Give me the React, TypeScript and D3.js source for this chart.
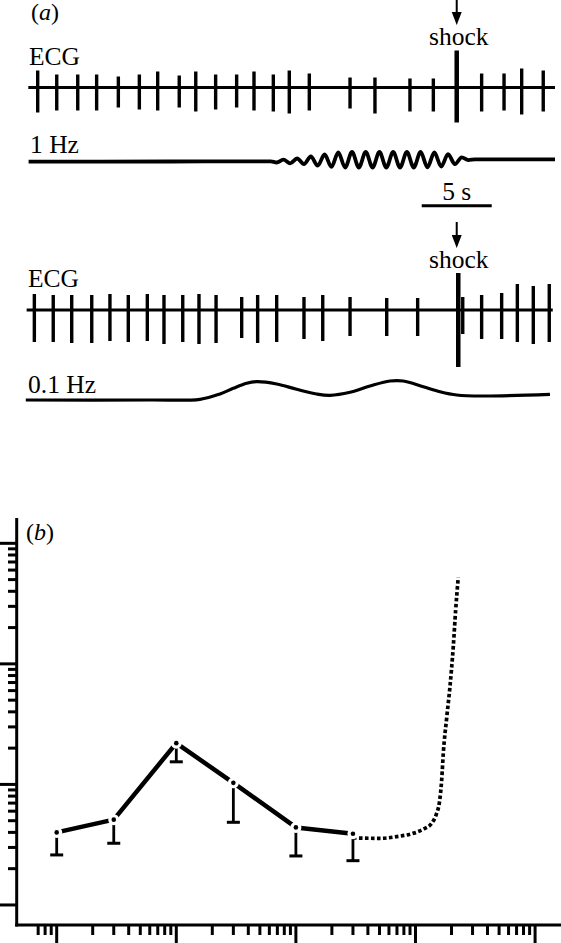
import React from 'react'
import * as d3 from 'd3'

// ---- panel (a): time in s, deflections in mV (20 px per mV) ----
// upper ECG (1 Hz stimulation)
const ecg1Times = [0.55, 1.91, 3.41, 4.76, 6.31, 7.81, 9.12, 10.66, 11.84, 13.26, 14.76, 16.0, 17.38, 18.52, 19.95, 22.86, 24.64, 27.14, 28.81, 30.48, 32.26, 33.86, 35.12, 36.66]
const ecg1Up = [0.85, 0.65, 0.65, 0.65, 0.55, 0.65, 0.8, 0.6, 0.8, 0.65, 0.65, 0.8, 0.65, 0.85, 0.7, 0.5, 0.5, 0.45, 0.45, 1.85, 0.7, 0.7, 0.95, 0.85]
const ecg1Down = [1.25, 1.15, 1.15, 1.15, 1.0, 1.1, 1.15, 1.0, 1.2, 1.1, 1.0, 1.15, 1.2, 1.3, 1.15, 1.05, 1.3, 1.2, 1.2, 1.75, 1.2, 1.15, 1.35, 1.2]
// lower ECG (0.1 Hz stimulation)
const ecg2Times = [0.31, 1.66, 2.98, 4.41, 5.71, 7.02, 8.38, 9.57, 10.91, 12.07, 13.29, 15.12, 16.26, 17.62, 19.57, 20.91, 22.86, 25.48, 27.69, 30.59, 30.91, 32.26, 33.69, 34.81, 35.95, 37.09]
const ecg2Up = [0.8, 0.75, 0.75, 0.75, 0.8, 0.75, 0.8, 0.75, 0.75, 0.8, 0.75, 0.65, 0.75, 0.75, 0.65, 0.75, 0.65, 0.6, 0.6, 1.85, 0.65, 0.75, 0.85, 1.3, 1.2, 1.3]
const ecg2Down = [1.6, 1.6, 1.65, 1.65, 1.55, 1.6, 1.55, 1.7, 1.6, 1.7, 1.65, 1.4, 1.65, 1.6, 1.45, 1.55, 1.3, 1.3, 1.3, 2.85, 1.2, 1.45, 1.45, 1.6, 1.7, 1.6]
const shockTime = 30.48

// stimulus traces: points read from the record (t, mV)
const stim1Hz: [number, number][] = [
  [-0.1, -0.06], [10, -0.05], [17.2, -0.04], [17.62, -0.1], [18.1, 0.04], [18.59, -0.14],
  [19.08, 0.1], [19.57, -0.18], [20.06, 0.2], [20.55, -0.26], [21.04, 0.3], [21.53, -0.32],
  [22.02, 0.4], [22.51, -0.35], [23.0, 0.43], [23.49, -0.35], [23.98, 0.43], [24.47, -0.35],
  [24.96, 0.43], [25.45, -0.35], [25.94, 0.43], [26.43, -0.35], [26.92, 0.43], [27.41, -0.35],
  [27.9, 0.43], [28.39, -0.34], [28.88, 0.4], [29.37, -0.3], [29.86, 0.32], [30.35, -0.18],
  [30.84, 0.16], [31.3, 0.02], [31.8, 0.06], [37.5, 0.06],
]
const stim01Hz: [number, number][] = [
  [-0.3, 0], [8.57, 0], [12.14, 0.035], [13.57, 0.3], [14.52, 0.585], [15.48, 0.835],
  [16.19, 0.915], [17.62, 0.8], [19.05, 0.535], [20.48, 0.3], [21.43, 0.235], [22.86, 0.385],
  [24.29, 0.7], [25.71, 0.95], [26.66, 0.95], [28.09, 0.665], [29.29, 0.415], [30.48, 0.25],
  [32.38, 0.2], [37.14, 0.285],
]

// ---- panel (b) ----
const freqs = [1, 3, 10, 30, 100, 300]
const meanVals = [4.0, 5.1, 22, 10.3, 4.4, 3.9]
const lowerVals = [2.6, 3.25, 15.4, 4.85, 2.55, 2.33]
const fitFreqs = [300, 505, 696, 959, 1162, 1366, 1503, 1581, 1656, 1708, 1823, 1942, 2070, 2167, 2278]
const fitVals = [3.6, 3.57, 3.69, 3.93, 4.25, 4.76, 5.76, 6.97, 10.9, 18.1, 35.6, 64.7, 139, 280, 522]

const W = 561
const H = 943
const font = '"Liberation Serif", "Times New Roman", Times, serif'
const fs = 25.5

export default function App() {
  const xT = d3.scaleLinear().domain([0, 37.5]).range([30, 555])
  const amp = d3.scaleLinear().domain([0, 1]).range([0, -20])

  const trace = (base: number, curve: d3.CurveFactory) =>
    d3.line<[number, number]>()
      .x(d => xT(d[0]))
      .y(d => base + amp(d[1]))
      .curve(curve)

  const spikes = (times: number[], up: number[], down: number[], base: number, big: number) =>
    times.map((t, i) => (
      <line key={i} x1={xT(t)} x2={xT(t)} y1={base + amp(up[i])} y2={base - amp(down[i])}
        stroke="#000" strokeWidth={i === big ? 4.5 : 3.4} />
    ))

  const arrow = (x: number, y0: number, tip: number) => (
    <g>
      <line x1={x} x2={x} y1={y0} y2={tip - 8} stroke="#000" strokeWidth={2} />
      <path d={`M${x - 5},${tip - 13}L${x + 5},${tip - 13}L${x},${tip}Z`} fill="#000" />
    </g>
  )

  // panel (b) scales
  const xF = d3.scaleLog().domain([0.463, 16470]).range([16.7, 561])
  const yV = d3.scaleLog().domain([0.682, 1622]).range([925, 518])
  const isMajor = (v: number) => Math.abs(Math.log10(v) - Math.round(Math.log10(v))) < 1e-6
  const xTicks = xF.ticks().filter(v => v >= 0.69)
  const yTicks = yV.ticks().filter(v => v >= 0.99)

  const meanLine = d3.line<number>().x((_, i) => xF(freqs[i])).y(d => yV(d))
  const fitLine = d3.line<number>().x((_, i) => xF(fitFreqs[i])).y(d => yV(d)).curve(d3.curveMonotoneX)

  return (
    <svg width={W} height={H} style={{ position: 'absolute', left: 0, top: 0, background: '#fff' }}
      fontFamily={font} fontSize={fs}>
      {/* ---------- panel (a) ---------- */}
      <text x={31} y={20} fontSize={24}>(<tspan fontStyle="italic">a</tspan>)</text>

      <text x={29} y={65}>ECG</text>
      <line x1={xT(-0.12)} x2={xT(37.5)} y1={87.5} y2={87.5} stroke="#000" strokeWidth={2.8} />
      {spikes(ecg1Times, ecg1Up, ecg1Down, 87.5, ecg1Times.indexOf(shockTime))}
      {arrow(xT(shockTime), 0, 25)}
      <text x={xT(shockTime) + 2} y={45} textAnchor="middle">shock</text>

      <text x={30} y={153}>1 Hz</text>
      <path d={trace(160.5, d3.curveMonotoneX)(stim1Hz) ?? ''} fill="none" stroke="#000" strokeWidth={3.8} />

      <line x1={xT(27.98)} x2={xT(32.98)} y1={205.7} y2={205.7} stroke="#000" strokeWidth={3} />
      <text x={xT(30.48)} y={200} textAnchor="middle">5 s</text>

      <text x={28} y={287}>ECG</text>
      <line x1={xT(-0.24)} x2={xT(37.34)} y1={310} y2={310} stroke="#000" strokeWidth={2.8} />
      {spikes(ecg2Times, ecg2Up, ecg2Down, 310, 19)}
      {arrow(xT(shockTime), 222, 248)}
      <text x={xT(shockTime) + 2} y={268} textAnchor="middle">shock</text>

      <text x={28} y={393}>0.1 Hz</text>
      <path d={trace(400, d3.curveCatmullRom.alpha(0.5))(stim01Hz) ?? ''} fill="none" stroke="#000" strokeWidth={3.2} />

      {/* ---------- panel (b) ---------- */}
      <text x={26} y={540} fontSize={24}>(<tspan fontStyle="italic">b</tspan>)</text>

      {yTicks.map(v => (
        <line key={'y' + v} x1={isMajor(v) ? -4 : 8} x2={16.7} y1={yV(v)} y2={yV(v)}
          stroke="#000" strokeWidth={3} />
      ))}
      {xTicks.map(v => (
        <line key={'x' + v} x1={xF(v)} x2={xF(v)} y1={925} y2={isMajor(v) ? 950 : 935}
          stroke="#000" strokeWidth={3} />
      ))}
      <line x1={16.7} x2={16.7} y1={518} y2={926.5} stroke="#000" strokeWidth={3} />
      <line x1={15.2} x2={W} y1={925} y2={925} stroke="#000" strokeWidth={3} />

      <path d={fitLine(fitVals) ?? ''} fill="none" stroke="#000" strokeWidth={3.7}
        strokeDasharray="3.6 2.4" />
      <path d={meanLine(meanVals) ?? ''} fill="none" stroke="#000" strokeWidth={4.5}
        strokeLinejoin="round" />

      {freqs.map((f, i) => (
        <g key={'e' + i}>
          <line x1={xF(f)} x2={xF(f)} y1={yV(meanVals[i])} y2={yV(lowerVals[i])}
            stroke="#000" strokeWidth={2.8} />
          <line x1={xF(f) - 6.5} x2={xF(f) + 6.5} y1={yV(lowerVals[i])} y2={yV(lowerVals[i])}
            stroke="#000" strokeWidth={3} />
          <circle cx={xF(f)} cy={yV(meanVals[i])} r={5.5} fill="#fff" />
          <circle cx={xF(f)} cy={yV(meanVals[i])} r={2.3} fill="#000" />
        </g>
      ))}
    </svg>
  )
}
